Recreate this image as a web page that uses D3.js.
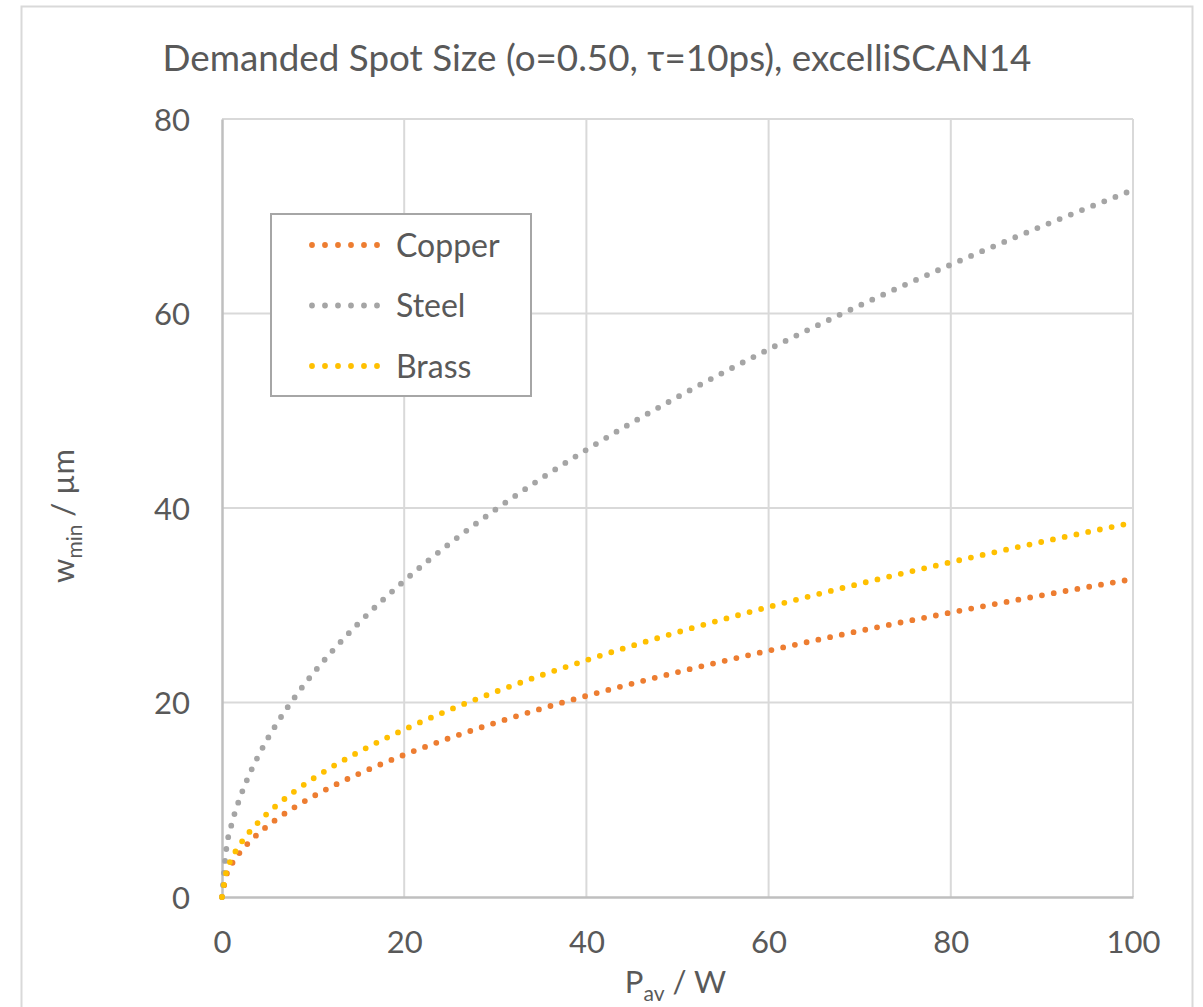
<!DOCTYPE html>
<html>
<head>
<meta charset="utf-8">
<script src="https://cdn.jsdelivr.net/npm/d3@7"></script>
<style>
  html, body { margin: 0; padding: 0; background: #fff; }
  svg text { font-family: Lato, "Open Sans", sans-serif; fill: #595959; }
</style>
</head>
<body>
<svg id="chart" width="1203" height="1007"></svg>
<script>
// Average power in W
const power = [0, 0.5, 1, 2, 3, 4, 5, 6, 8, 10, 12, 15, 20, 25, 30, 35, 40, 50, 60, 70, 80, 90, 100];
// Minimum spot radius in µm per material
const copper = [0, 2.31, 3.27, 4.62, 5.66, 6.54, 7.31, 8.01, 9.25, 10.34, 11.33, 12.66, 14.62, 16.35, 17.91, 19.35, 20.68, 23.12, 25.33, 27.36, 29.25, 31.02, 32.7];
const steel  = [0, 5.14, 7.27, 10.28, 12.59, 14.54, 16.26, 17.81, 20.56, 22.99, 25.18, 28.16, 32.51, 36.35, 39.82, 43.01, 45.98, 51.41, 56.31, 60.83, 65.02, 68.97, 72.7];
const brass  = [0, 2.72, 3.85, 5.44, 6.67, 7.7, 8.61, 9.43, 10.89, 12.17, 13.34, 14.91, 17.22, 19.25, 21.09, 22.78, 24.35, 27.22, 29.82, 32.21, 34.43, 36.52, 38.5];
const seriesNames = ["Copper", "Steel", "Brass"];
const seriesColors = ["#ED7D31", "#A5A5A5", "#FFC000"];
const xTicks = [0, 20, 40, 60, 80, 100];
const yTicks = [0, 20, 40, 60, 80];

const series = [copper, steel, brass].map((vals, i) => ({
  name: seriesNames[i],
  color: seriesColors[i],
  points: power.map((p, j) => ({ x: p, y: vals[j] }))
}));

const svg = d3.select("#chart");
const margin = { left: 222, right: 70, top: 119, bottom: 110 };
const W = 1203, H = 1007;

// chart area frame
svg.append("rect")
  .attr("x", 21.5).attr("y", 6.5)
  .attr("width", 1171).attr("height", 1100)
  .attr("fill", "#fff").attr("stroke", "#d9d9d9").attr("stroke-width", 2);

const x = d3.scaleLinear().domain([0, 100]).range([margin.left, W - margin.right]);
const y = d3.scaleLinear().domain([0, 80]).range([H - margin.bottom, margin.top]);

// gridlines
const grid = svg.append("g");
grid.selectAll(".vg").data(xTicks.filter(t => t > 0)).join("line")
  .attr("x1", d => x(d)).attr("x2", d => x(d))
  .attr("y1", y(0)).attr("y2", y(80))
  .attr("stroke", "#d9d9d9").attr("stroke-width", 2);
grid.selectAll(".hg").data(yTicks.filter(t => t > 0)).join("line")
  .attr("x1", x(0)).attr("x2", x(100))
  .attr("y1", d => y(d)).attr("y2", d => y(d))
  .attr("stroke", "#d9d9d9").attr("stroke-width", 2);

// axes
const xAxis = svg.append("g")
  .attr("transform", `translate(0,${y(0)})`)
  .call(d3.axisBottom(x).tickValues(xTicks).tickSize(0).tickPadding(34));
const yAxis = svg.append("g")
  .attr("transform", `translate(${x(0)},0)`)
  .call(d3.axisLeft(y).tickValues(yTicks).tickSize(0).tickPadding(32));
[xAxis, yAxis].forEach(a => {
  a.select(".domain").attr("stroke", "#bfbfbf").attr("stroke-width", 2.5);
  a.selectAll("text").attr("font-size", 31).attr("fill", "#595959")
    .attr("font-family", "Lato, sans-serif");
});
yAxis.selectAll("text").attr("dy", "0.36em");

// series lines, dotted
const line = d3.line().x(d => x(d.x)).y(d => y(d.y)).curve(d3.curveMonotoneX);
svg.append("g").selectAll("path").data(series).join("path")
  .attr("d", d => line(d.points))
  .attr("fill", "none")
  .attr("stroke", d => d.color)
  .attr("stroke-width", 5.8)
  .attr("stroke-linecap", "round")
  .attr("stroke-dasharray", "0 12");

// title
svg.append("text")
  .attr("x", 597).attr("y", 71)
  .attr("text-anchor", "middle")
  .attr("font-size", 36.8)
  .text("Demanded Spot Size (o=0.50, τ=10ps), excelliSCAN14");

// axis titles
const xt = svg.append("text")
  .attr("x", x(50) - 2).attr("y", 993)
  .attr("text-anchor", "middle").attr("font-size", 31);
xt.append("tspan").text("P");
xt.append("tspan").attr("font-size", 21).attr("dy", 8).text("av");
xt.append("tspan").attr("dy", -8).text(" / W");

const yt = svg.append("text")
  .attr("transform", `translate(74,${y(40) + 8}) rotate(-90)`)
  .attr("text-anchor", "middle").attr("font-size", 31);
yt.append("tspan").text("w");
yt.append("tspan").attr("font-size", 21).attr("dy", 8).text("min");
yt.append("tspan").attr("dy", -8).text(" / µm");

// legend
const lg = svg.append("g");
lg.append("rect")
  .attr("x", 271).attr("y", 214).attr("width", 260).attr("height", 182)
  .attr("fill", "#fff").attr("stroke", "#a6a6a6").attr("stroke-width", 2);
const rows = lg.selectAll(".row").data(series).join("g")
  .attr("transform", (d, i) => `translate(0,${245 + i * 60.5})`);
rows.append("line")
  .attr("x1", 312).attr("x2", 390).attr("y1", 0).attr("y2", 0)
  .attr("stroke", d => d.color).attr("stroke-width", 5.8)
  .attr("stroke-linecap", "round").attr("stroke-dasharray", "0 13");
rows.append("text")
  .attr("x", 396).attr("y", 0).attr("dy", "0.36em")
  .attr("font-size", 32)
  .text(d => d.name);
</script>
</body>
</html>
